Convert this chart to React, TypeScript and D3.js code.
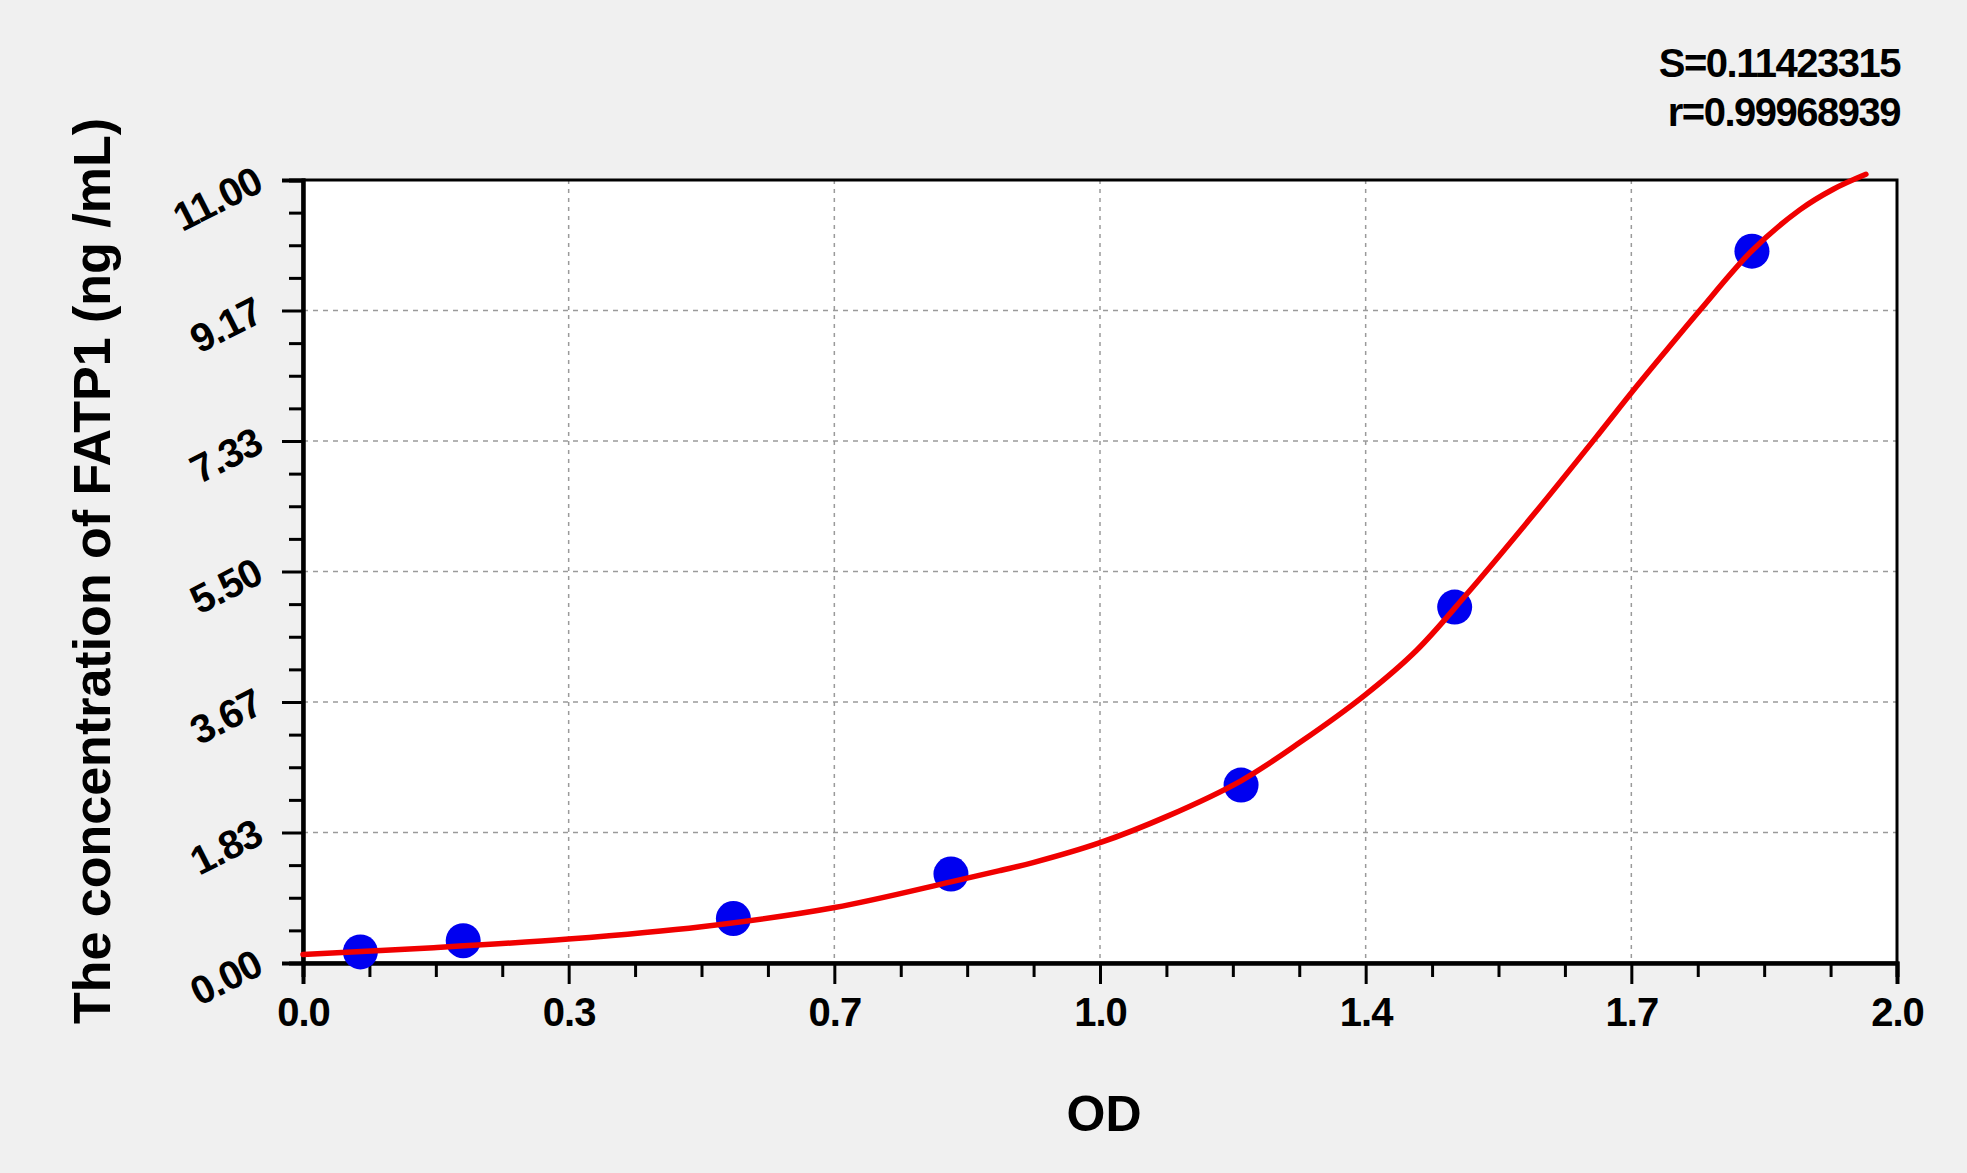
import React, { useEffect, useRef } from 'react';
import * as d3 from 'd3';

// standards
const odValues = [0.072, 0.201, 0.54, 0.813, 1.177, 1.445, 1.818];
const concValues = [0.156, 0.313, 0.625, 1.25, 2.5, 5, 10];

// fitted curve, sampled along the red line
const curveOD = [0, 0.164, 0.333, 0.5, 0.667, 0.813, 0.875, 0.916, 1.0, 1.084, 1.177, 1.251, 1.332, 1.397, 1.46, 1.544, 1.627, 1.666, 1.711, 1.753, 1.818, 1.878, 1.92, 1.961];
const curveConc = [0.12, 0.215, 0.337, 0.51, 0.78, 1.14, 1.3, 1.41, 1.69, 2.06, 2.56, 3.1, 3.76, 4.39, 5.18, 6.3, 7.45, 8.0, 8.612, 9.174, 10.007, 10.58, 10.87, 11.08];

const xTickLabels = ['0.0', '0.3', '0.7', '1.0', '1.4', '1.7', '2.0'];
const yTickLabels = ['0.00', '1.83', '3.67', '5.50', '7.33', '9.17', '11.00'];

const statLines = ['S=0.11423315', 'r=0.99968939'];

const W = 1967;
const H = 1173;

const App: React.FC = () => {
  const svgRef = useRef<SVGSVGElement>(null);

  useEffect(() => {
    if (!svgRef.current) return;
    const svg = d3.select(svgRef.current);
    svg.selectAll('*').remove();

    const left = 303, right = 1897, top = 180, bottom = 963;
    const font = '"Liberation Sans", Arial, sans-serif';

    svg.append('rect').attr('width', W).attr('height', H).attr('fill', '#f0f0f0');

    const x = d3.scaleLinear().domain([0, 2]).range([left, right]);
    const y = d3.scaleLinear().domain([0, 11]).range([bottom, top]);

    const xMajor = xTickLabels.map((_, i) => (i * 2) / 6);
    const yMajor = yTickLabels.map((_, i) => (i * 11) / 6);
    const xMinor = d3.range(0, 24).filter(i => i % 4 !== 0).map(i => (i * 2) / 24);
    const yMinor = d3.range(0, 24).filter(i => i % 4 !== 0).map(i => (i * 11) / 24);

    // plot area
    svg.append('rect')
      .attr('x', left).attr('y', top)
      .attr('width', right - left).attr('height', bottom - top)
      .attr('fill', '#fff');

    // grid
    svg.append('g').selectAll('line')
      .data(xMajor.slice(1, -1))
      .join('line')
      .attr('x1', d => x(d)).attr('x2', d => x(d))
      .attr('y1', top).attr('y2', bottom)
      .attr('stroke', '#9a9a9a').attr('stroke-width', 1.5)
      .attr('stroke-dasharray', '4,5');

    svg.append('g').selectAll('line')
      .data(yMajor.slice(1, -1))
      .join('line')
      .attr('x1', left).attr('x2', right)
      .attr('y1', d => y(d)).attr('y2', d => y(d))
      .attr('stroke', '#9a9a9a').attr('stroke-width', 1.5)
      .attr('stroke-dasharray', '5,5');

    // frame
    svg.append('rect')
      .attr('x', left).attr('y', top)
      .attr('width', right - left).attr('height', bottom - top)
      .attr('fill', 'none').attr('stroke', '#000').attr('stroke-width', 3);

    // x axis
    const xAxis = svg.append('g').attr('transform', `translate(0,${bottom})`);
    xAxis.call(
      d3.axisBottom(x).tickValues(xMajor).tickSize(21).tickPadding(14)
        .tickFormat((_, i) => xTickLabels[i])
    );
    xAxis.append('g').call(
      d3.axisBottom(x).tickValues(xMinor).tickSize(14).tickFormat(() => '')
    );
    xAxis.selectAll('.domain').attr('stroke-width', 4);
    xAxis.selectAll('line').attr('stroke-width', 3);
    xAxis.selectAll('text')
      .attr('fill', '#000')
      .style('font-family', font)
      .style('font-weight', 'bold')
      .style('font-size', '40px')
      .style('letter-spacing', '-1px');

    // y axis
    const yAxis = svg.append('g').attr('transform', `translate(${left},0)`);
    yAxis.call(d3.axisLeft(y).tickValues(yMajor).tickSize(21).tickFormat(() => ''));
    yAxis.append('g').call(
      d3.axisLeft(y).tickValues(yMinor).tickSize(14).tickFormat(() => '')
    );
    yAxis.selectAll('.domain').attr('stroke-width', 4);
    yAxis.selectAll('line').attr('stroke-width', 3);

    svg.append('g').selectAll('text')
      .data(yMajor)
      .join('text')
      .attr('transform', d => `translate(${left - 38},${y(d) + 10}) rotate(-27)`)
      .attr('text-anchor', 'end')
      .style('font-family', font)
      .style('font-weight', 'bold')
      .style('font-size', '40px')
      .style('letter-spacing', '-1px')
      .attr('fill', '#000')
      .text((_, i) => yTickLabels[i]);

    // fitted curve
    const line = d3.line<number>()
      .x((_, i) => x(curveOD[i]))
      .y(d => y(d))
      .curve(d3.curveCatmullRom.alpha(0.5));

    // points
    svg.append('g').selectAll('circle')
      .data(concValues)
      .join('circle')
      .attr('cx', (_, i) => x(odValues[i]))
      .attr('cy', d => y(d))
      .attr('r', 17.5)
      .attr('fill', '#0000f0');

    svg.append('path')
      .datum(curveConc)
      .attr('fill', 'none')
      .attr('stroke', '#f00000')
      .attr('stroke-width', 5.5)
      .attr('stroke-linecap', 'round')
      .attr('d', line);

    // titles
    svg.append('text')
      .attr('x', (left + right) / 2 + 4)
      .attr('y', 1131)
      .attr('text-anchor', 'middle')
      .style('font-family', font)
      .style('font-weight', 'bold')
      .style('font-size', '50px')
      .attr('fill', '#000')
      .text('OD');

    svg.append('text')
      .attr('transform', `translate(110,571) rotate(-90)`)
      .attr('text-anchor', 'middle')
      .style('font-family', font)
      .style('font-weight', 'bold')
      .style('font-size', '52px')
      .attr('fill', '#000')
      .text('The concentration of FATP1 (ng /mL)');

    svg.append('g').selectAll('text')
      .data(statLines)
      .join('text')
      .attr('x', 1900)
      .attr('y', (_, i) => 77 + i * 49)
      .attr('text-anchor', 'end')
      .style('font-family', font)
      .style('font-weight', 'bold')
      .style('font-size', '40px')
      .style('letter-spacing', '-1.5px')
      .attr('fill', '#000')
      .text(d => d);
  }, []);

  return (
    <svg
      ref={svgRef}
      width={W}
      height={H}
      style={{ position: 'absolute', left: 0, top: 0, display: 'block' }}
    />
  );
};

export default App;
